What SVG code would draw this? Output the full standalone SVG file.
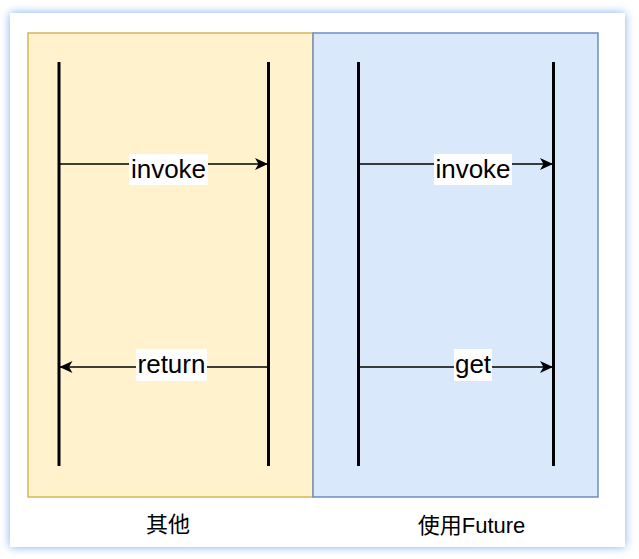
<svg xmlns="http://www.w3.org/2000/svg" width="639" height="559" viewBox="0 0 639 559">
  <defs>
    <filter id="glow" x="-10%" y="-10%" width="120%" height="120%">
      <feFlood flood-color="#7fadf2" flood-opacity="1" result="c"/>
      <feComposite in="c" in2="SourceAlpha" operator="in" result="s"/>
      <feGaussianBlur in="s" stdDeviation="5" result="b"/>
      <feMerge><feMergeNode in="b"/><feMergeNode in="SourceGraphic"/></feMerge>
    </filter>
    <marker id="arr" viewBox="0 0 13 13" refX="13" refY="6.5" markerWidth="13" markerHeight="13" markerUnits="userSpaceOnUse" orient="auto">
      <path d="M13,6.5 L0,0.5 L3.5,6.5 L0,12.5 Z" fill="#000"/>
    </marker>
    <style>
      .life{stroke:#000;stroke-width:3;fill:none}
      .msg{stroke:#000;stroke-width:1.5;fill:none;marker-end:url(#arr)}
      .lbl{font-family:"Liberation Sans",Arial,sans-serif;font-size:26px;fill:#000;text-anchor:middle}
      .lblbg{fill:#fff}
      .cap{font-family:"Liberation Sans","Noto Sans CJK SC",sans-serif;font-size:22px;fill:#000;text-anchor:middle}
    </style>
  </defs>
  <rect x="0" y="0" width="639" height="559" fill="#fff"/>
  <rect id="frame" x="10" y="13" width="615" height="534" fill="#fff" filter="url(#glow)"/>
  <g id="panel-other">
    <rect x="28" y="33" width="285" height="464" fill="#fff2cc" stroke="#d6b656" stroke-width="1.5"/>
  </g>
  <g id="panel-future">
    <rect x="313" y="33" width="285" height="464" fill="#dae8fc" stroke="#6c8ebf" stroke-width="1.5"/>
  </g>
  <g id="lifeline-a1"><line class="life" x1="59" y1="62" x2="59" y2="466"/></g>
  <g id="lifeline-a2"><line class="life" x1="268.5" y1="62" x2="268.5" y2="466"/></g>
  <g id="lifeline-b1"><line class="life" x1="358.5" y1="62" x2="358.5" y2="466"/></g>
  <g id="lifeline-b2"><line class="life" x1="553.5" y1="62" x2="553.5" y2="466"/></g>
  <g id="connectors">
    <line class="msg" x1="59" y1="164" x2="268" y2="164"/>
    <line class="msg" x1="268" y1="367" x2="59.5" y2="367"/>
    <line class="msg" x1="358.5" y1="164" x2="553" y2="164"/>
    <line class="msg" x1="358.5" y1="367" x2="553" y2="367"/>
    <rect class="lblbg" x="129" y="154" width="79" height="31"/>
    <text class="lbl" x="168.5" y="178">invoke</text>
    <rect class="lblbg" x="136" y="349" width="71" height="32"/>
    <text class="lbl" x="171.5" y="373">return</text>
    <rect class="lblbg" x="434" y="154" width="78" height="31"/>
    <text class="lbl" x="473" y="178">invoke</text>
    <rect class="lblbg" x="454" y="349" width="38" height="32"/>
    <text class="lbl" x="473" y="373">get</text>
  </g>
  <g id="caption-other"><text class="cap" x="168" y="532">其他</text></g>
  <g id="caption-future"><text class="cap" x="471.5" y="533">使用Future</text></g>
</svg>
